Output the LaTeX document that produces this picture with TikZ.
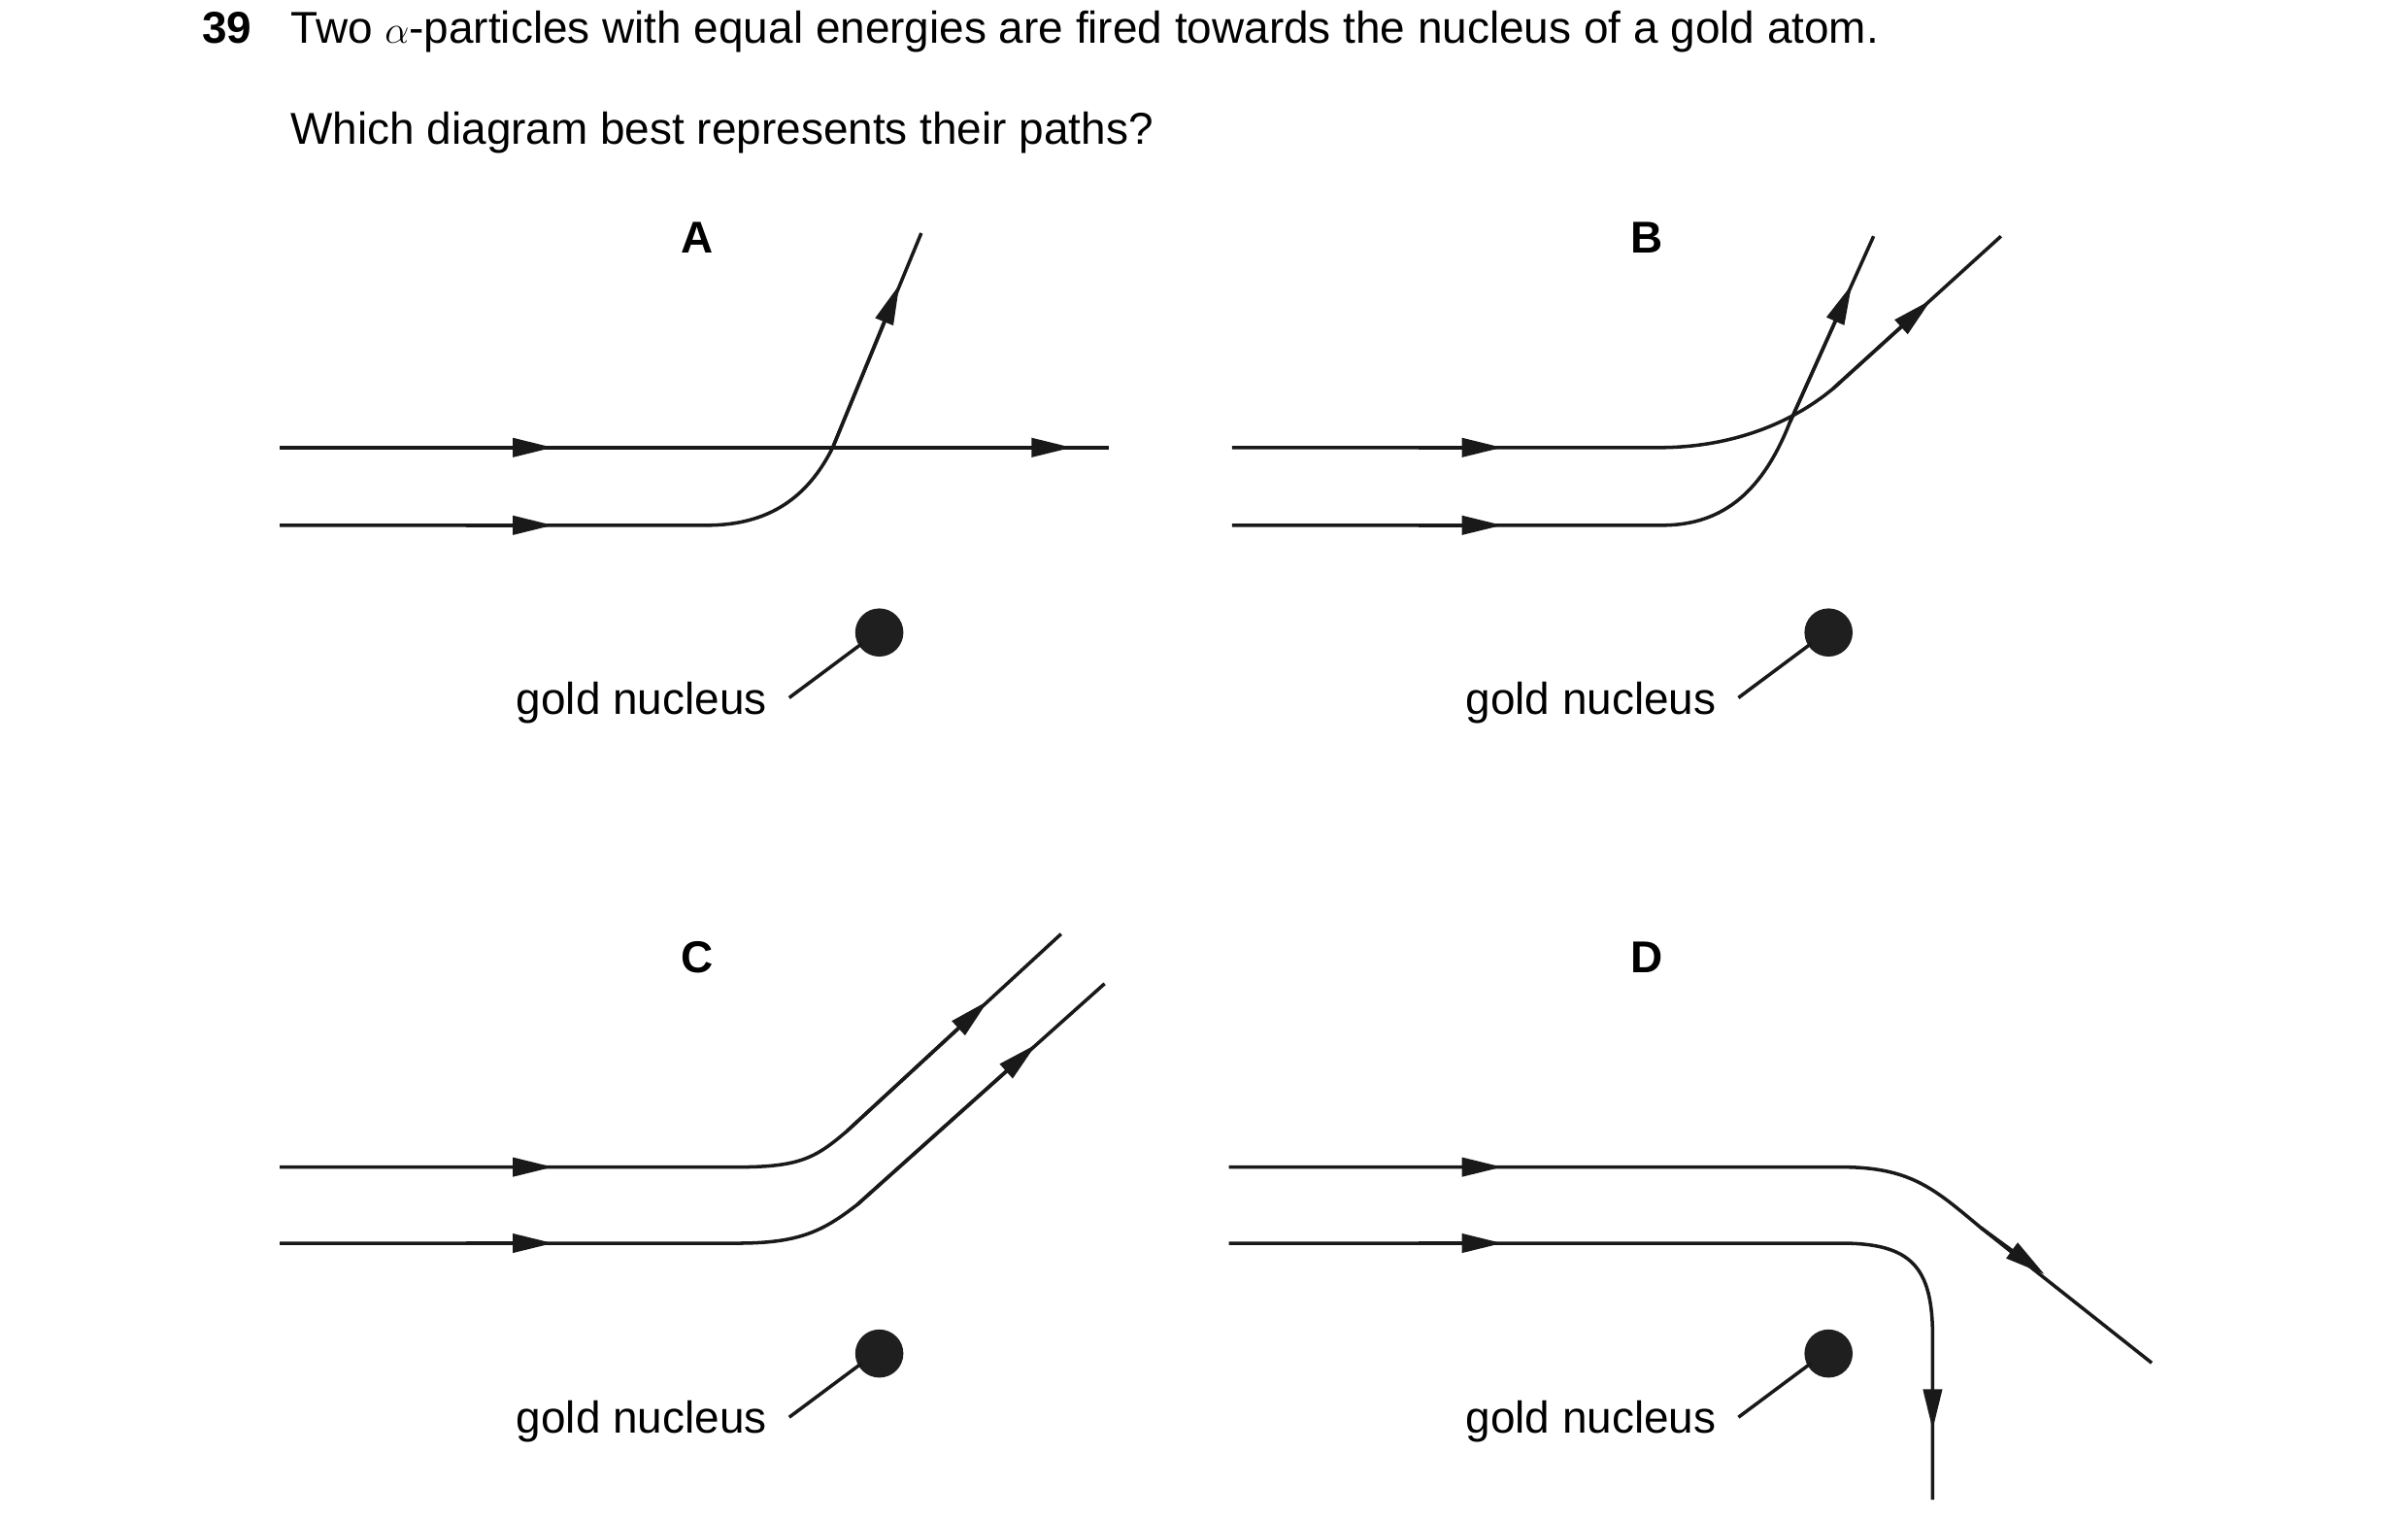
\documentclass[tikz,border=0pt]{standalone}
\usepackage{fontspec}
\setmainfont{Liberation Sans}
\usetikzlibrary{arrows.meta}
\begin{document}
\begin{tikzpicture}[x=1pt,y=-1pt,
  path/.style={line width=2.2pt,color=black!90},
  tip/.style={line width=2.2pt,color=black!90,-{Triangle[length=26pt,width=12pt]}},
  nuc/.style={fill=black!88,draw=none},
  txt/.style={font=\fontsize{28.7}{34}\selectfont,inner sep=0pt},
  lbl/.style={font=\fontsize{28.7}{34}\selectfont\bfseries,inner sep=0pt}]
\useasboundingbox (0,0) rectangle (1550,978);
\node[lbl,anchor=base west] (q) at (130,28) {39};
\node[txt,anchor=base west] (t1) at (187,28) {Two $\alpha$-particles with equal energies are fired towards the nucleus of a gold atom.};
\node[txt,anchor=base west] (t2) at (187,93) {Which diagram best represents their paths?};
% A
\node[lbl] (A) at (449,153) {A};
\draw[path] (180,288) -- (714,288);
\draw[tip] (300,288) -- (356,288);
\draw[tip] (640,288) -- (690,288);
\draw[path] (180,338) -- (455,338) .. controls (495,338) and (520,320) .. (536,288) -- (593,150);
\draw[tip] (536,288) -- (579,183);
\draw[tip] (300,338) -- (356,338);
\fill[nuc] (566,407) circle (15.5);
\draw[path] (508,449) -- (555,414);
\node[txt] (gA) at (413,452) {gold nucleus};
% B
\node[lbl] (B) at (1060,153) {B};
\draw[path] (793,288) -- (1068,288) .. controls (1110,288) and (1150,275) .. (1180,250) -- (1288,152);
\draw[tip] (913,288) -- (967,288);
\draw[tip] (1180,250) -- (1243,193);
\draw[path] (793,338) -- (1070,338) .. controls (1110,338) and (1135,315) .. (1152,272) -- (1206,152);
\draw[tip] (1152,272) -- (1192,183);
\draw[tip] (913,338) -- (967,338);
\fill[nuc] (1177,407) circle (15.5);
\draw[path] (1119,449) -- (1166,414);
\node[txt] (gB) at (1024,452) {gold nucleus};
% C
\node[lbl] (C) at (449,616) {C};
\draw[path] (180,751) -- (475,751) .. controls (515,751) and (525,745) .. (545,728) -- (683,601);
\draw[tip] (545,728) -- (636,644);
\draw[tip] (300,751) -- (356,751);
\draw[path] (180,800) -- (475,800) .. controls (515,800) and (530,792) .. (552,775) -- (711,633);
\draw[tip] (552,775) -- (667,672);
\draw[tip] (300,800) -- (356,800);
\fill[nuc] (566,871) circle (15.5);
\draw[path] (508,912) -- (555,877);
\node[txt] (gC) at (413,915) {gold nucleus};
% D
\node[lbl] (D) at (1060,616) {D};
\draw[path] (791,751) -- (1185,751) .. controls (1230,751) and (1245,765) .. (1275,790) -- (1385,877);
\draw[tip] (1275,790) -- (1316,820);
\draw[tip] (913,751) -- (967,751);
\draw[path] (791,800) -- (1185,800) .. controls (1230,800) and (1244,815) .. (1244,860) -- (1244,965);
\draw[tip] (1244,860) -- (1244,920);
\draw[tip] (913,800) -- (967,800);
\fill[nuc] (1177,871) circle (15.5);
\draw[path] (1119,912) -- (1166,877);
\node[txt] (gD) at (1024,915) {gold nucleus};
\end{tikzpicture}
\end{document}
